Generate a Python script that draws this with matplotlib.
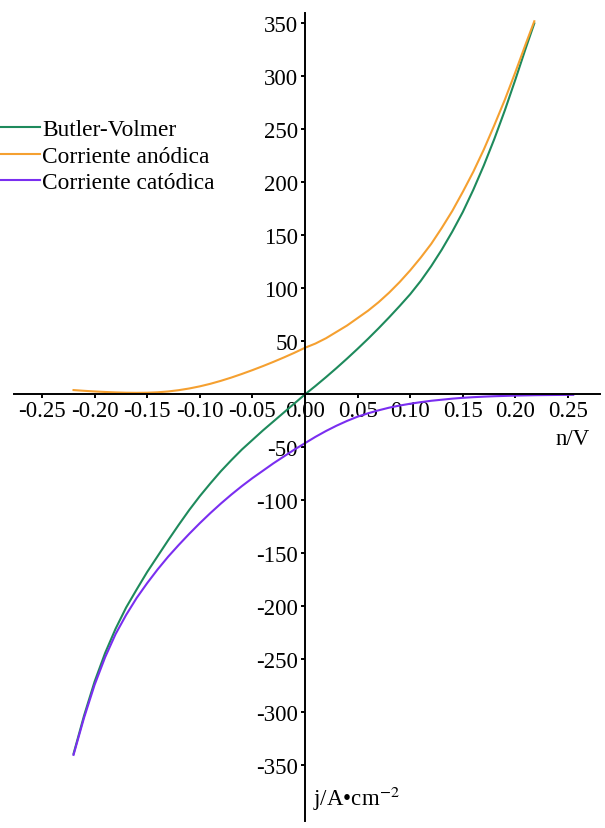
import matplotlib
matplotlib.use('Agg')
import matplotlib.pyplot as plt

plt.rcParams['font.family'] = ['Liberation Serif', 'DejaVu Serif']
plt.rcParams['mathtext.fontset'] = 'stix'

# --------- datos ------------------------------
eta_bv = [-0.22, -0.21, -0.20, -0.19, -0.18, -0.17, -0.16, -0.15, -0.14, -0.13, -0.12,
          -0.11, -0.10, -0.09, -0.08, -0.07, -0.06, -0.05, -0.04, -0.03, -0.02, -0.01,
          0.00, 0.01, 0.02, 0.03, 0.04, 0.05, 0.06, 0.07, 0.08, 0.09, 0.10, 0.11,
          0.12, 0.13, 0.14, 0.15, 0.16, 0.17, 0.18, 0.19, 0.20, 0.21, 0.218]
j_bv = [-339, -303, -271, -244, -221, -201, -184, -167.5, -152.5, -137.5, -123,
        -109, -96, -84, -72.5, -62, -52, -43, -34, -25.5, -17, -8.5,
        0, 8, 16.3, 24.9, 33.8, 43, 52.5, 62.4, 72.7, 83.4, 94.5, 107,
        121, 136.5, 153.5, 172, 193, 216, 241, 268, 297, 327, 350]

eta_an = [-0.22, -0.21, -0.20, -0.19, -0.18, -0.17, -0.16, -0.15, -0.14, -0.13, -0.12,
          -0.11, -0.10, -0.09, -0.08, -0.07, -0.06, -0.05, -0.04, -0.03, -0.02, -0.01,
          0.00, 0.01, 0.02, 0.03, 0.04, 0.05, 0.06, 0.07, 0.08, 0.09, 0.10, 0.11,
          0.12, 0.13, 0.14, 0.15, 0.16, 0.17, 0.18, 0.19, 0.20, 0.21, 0.218]
j_an = [4.1, 3.4, 2.8, 2.3, 1.9, 1.6, 1.5, 1.6, 2.0, 2.8, 4.0,
        5.6, 7.6, 10.0, 12.8, 15.9, 19.3, 22.9, 26.7, 30.7, 34.9, 39.3,
        44, 48, 53, 59, 65, 72, 79, 87, 96, 106, 117, 129,
        142, 157, 173, 191, 210, 231, 254, 278, 304, 331, 352]

eta_cat = [-0.22, -0.21, -0.20, -0.19, -0.18, -0.17, -0.16, -0.15, -0.14, -0.13, -0.12,
           -0.11, -0.10, -0.09, -0.08, -0.07, -0.06, -0.05, -0.04, -0.03, -0.02, -0.01,
           0.00, 0.01, 0.02, 0.03, 0.04, 0.05, 0.06, 0.07, 0.08, 0.09, 0.10, 0.11,
           0.12, 0.13, 0.14, 0.15, 0.16, 0.17, 0.18, 0.19, 0.20, 0.21, 0.22, 0.23,
           0.24, 0.255]
j_cat = [-340, -305, -274, -248, -226, -208, -192, -178, -165, -153, -142,
         -131.5, -121.5, -112, -103, -94.5, -86.5, -79, -72, -65, -58.5, -52,
         -46, -40, -34.5, -29.5, -25, -21, -17.8, -15, -12.5, -10.5, -8.8, -7.3,
         -6, -5, -4, -3.2, -2.6, -2.1, -1.7, -1.4, -1.1, -0.9, -0.7, -0.6,
         -0.5, -0.4]

x_ticks = [-0.25, -0.20, -0.15, -0.10, -0.05, 0.00, 0.05, 0.10, 0.15, 0.20, 0.25]
y_ticks = [-350, -300, -250, -200, -150, -100, -50, 50, 100, 150, 200, 250, 300, 350]

fig = plt.figure(figsize=(6.05, 8.29), dpi=100)
ax = fig.add_axes([0, 0, 1, 1])

ax.plot(eta_bv, j_bv, color='#1e8a5c', lw=1.5, label='Butler-Volmer')
ax.plot(eta_an, j_an, color='#f5a030', lw=1.5, label='Corriente anódica')
ax.plot(eta_cat, j_cat, color='#7a2ef0', lw=1.5, label='Corriente catódica')

ax.set_xlim(-0.2899, 0.2852)
ax.set_ylim(-409, 373)

for s in ['top', 'right']:
    ax.spines[s].set_visible(False)
ax.spines['left'].set_position(('data', 0))
ax.spines['bottom'].set_position(('data', 0))
ax.spines['left'].set_bounds(-402, 360)
ax.spines['bottom'].set_bounds(-0.277, 0.280)
ax.spines['left'].set_linewidth(1.4)
ax.spines['bottom'].set_linewidth(1.4)

ax.set_xticks(x_ticks)
ax.set_xticklabels(['%.2f' % v for v in x_ticks])
ax.set_yticks(y_ticks)
ax.set_yticklabels([str(v) for v in y_ticks])
ax.tick_params(axis='both', direction='out', length=3, width=1.4, labelsize=16.5)
ax.tick_params(axis='x', pad=1)
ax.tick_params(axis='y', pad=2)

ax.text(0.2386, -32, 'n/V', ha='left', va='top', fontsize=16.5)
ax.text(0.008, -381, 'j/A•cm$^{-2}$', ha='left', va='center', fontsize=16.5)

ax.legend(loc='upper left', bbox_to_anchor=(0, 1 - 120 / 829), bbox_transform=fig.transFigure,
          frameon=False, fontsize=16.8, handlelength=1.72, handletextpad=0.08,
          borderpad=0, borderaxespad=0, labelspacing=0.22)

fig.savefig('out.png', dpi=100)
